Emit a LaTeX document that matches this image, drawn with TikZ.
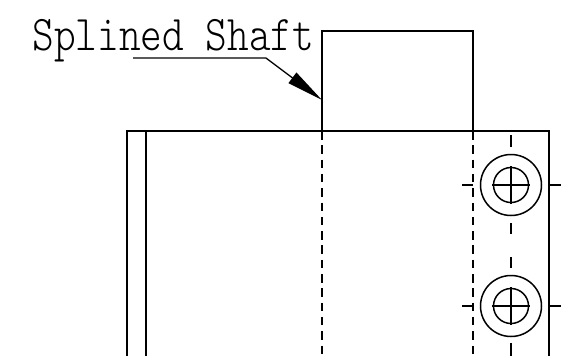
\documentclass[tikz,border=0pt]{standalone}
\usepackage{amsmath}
\usepackage{graphicx}
\usepackage{fontspec}
\newfontfamily\titlefont{Latin Modern Mono Light}
\usetikzlibrary{arrows.meta,positioning}

\begin{document}
\begin{tikzpicture}[x=1bp,y=-1bp,line width=1.3bp,
    hidden/.style={dash pattern=on 8.5bp off 5.8bp},
    hole/.style={circle,draw,line width=1.5bp,inner sep=0pt,minimum size=#1}]
  \useasboundingbox (0,0) rectangle (579,356);

  \node[anchor=base west,inner sep=0pt] (title) at (32,50) {\scalebox{.825}[1]{\fontsize{50bp}{50bp}\titlefont Splined Shaft}};

  \coordinate (shaftTL) at (322,31);
  \coordinate (shaftTR) at (473,31);
  \coordinate (shaftBL) at (322,131);
  \coordinate (shaftBR) at (473,131);
  \coordinate (tip) at (322,100);
  \coordinate (leaderA) at (133,58);
  \coordinate (leaderB) at (266,58);

  % housing
  \draw (127,356) -- (127,131) -- (549,131) -- (549,356);
  \draw (146,131) -- (146,356);

  % shaft
  \draw (shaftBL) -- (shaftTL) -- (shaftTR) -- (shaftBR);
  \draw[hidden] (shaftBL) -- (322,356);
  \draw[hidden] (shaftBR) -- (473,356);

  % leader
  \draw[-{Triangle[length=37bp,width=13bp]}] (leaderA) -- (leaderB) -- (tip);

  % bolt holes
  \foreach \name/\ypos in {holeA/185,holeB/306}{
    \node[hole=61bp]  (\name) at (511,\ypos) {};
    \node[hole=35bp]  (\name i) at (511,\ypos) {};
    \draw ([xshift=-19bp]\name.center) -- ([xshift=19bp]\name.center);
    \draw ([yshift=-19bp]\name.center) -- ([yshift=19bp]\name.center);
    \draw (462,\ypos) -- (473,\ypos);
    \draw (549,\ypos) -- (561,\ypos);
  }
  \draw (511,135) -- (511,147);
  \draw (511,223) -- (511,234);
  \draw (511,257) -- (511,268);
  \draw (511,343) -- (511,356);
\end{tikzpicture}
\end{document}
